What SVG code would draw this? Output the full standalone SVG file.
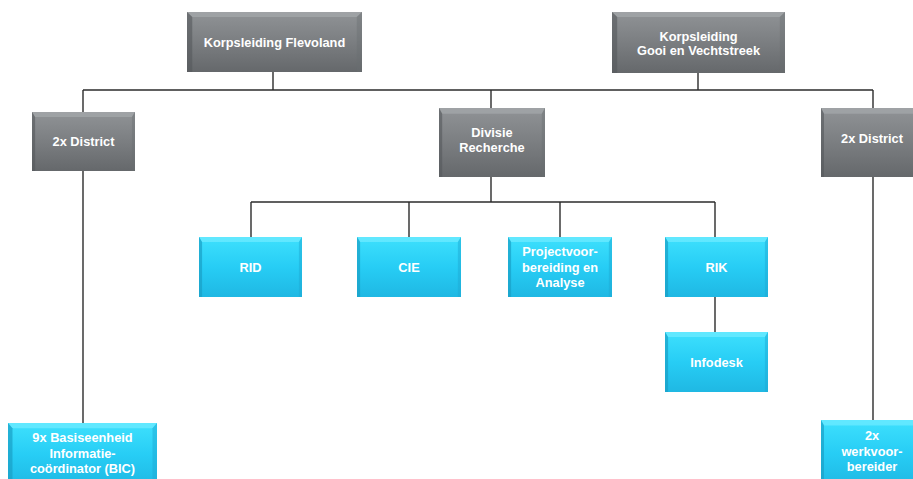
<svg xmlns="http://www.w3.org/2000/svg" width="913" height="479" viewBox="0 0 913 479">
  <style>
    .txt { font-family: "Liberation Sans", Arial, sans-serif; font-weight: bold; font-size: 12.8px; fill: #ffffff; text-anchor: middle; }
    .line { stroke: #2b2b2b; stroke-width: 1.4; fill: none; }
  </style>
  <defs>
    <linearGradient id="gray" x1="0" y1="0" x2="0" y2="1">
      <stop offset="0" stop-color="#909396"/>
      <stop offset="0.5" stop-color="#7b7e81"/>
      <stop offset="1" stop-color="#65686b"/>
    </linearGradient>
    <linearGradient id="cyan" x1="0" y1="0" x2="0" y2="1">
      <stop offset="0" stop-color="#3ee0fd"/>
      <stop offset="0.5" stop-color="#27cdf5"/>
      <stop offset="1" stop-color="#1fb8e3"/>
    </linearGradient>
    <!-- grey box with bevelled top and side edges -->
    <symbol id="grayBox" viewBox="0 0 100 60" preserveAspectRatio="none">
      <rect x="0" y="0" width="100" height="60" fill="url(#gray)"/>
      <polygon points="0,0 100,0 97,5 3,5" fill="#a3a6a9" opacity="0.8"/>
      <polygon points="0,0 3,5 3,60 0,60" fill="#55585b" opacity="0.6"/>
      <polygon points="100,0 97,5 97,60 100,60" fill="#6a6d70" opacity="0.4"/>
    </symbol>
    <!-- cyan box with bevelled top and side edges -->
    <symbol id="cyanBox" viewBox="0 0 100 60" preserveAspectRatio="none">
      <rect x="0" y="0" width="100" height="60" fill="url(#cyan)"/>
      <polygon points="0,0 100,0 97,5 3,5" fill="#6aeaff" opacity="0.8"/>
      <polygon points="0,0 3,5 3,60 0,60" fill="#1a9fc6" opacity="0.7"/>
      <polygon points="100,0 97,5 97,60 100,60" fill="#1eaad4" opacity="0.5"/>
    </symbol>
  </defs>
  <rect width="913" height="479" fill="#ffffff"/>

  <g id="connectors">
    <line class="line" x1="273" y1="72" x2="273" y2="90"/>
    <line class="line" x1="698" y1="73" x2="698" y2="90"/>
    <line class="line" x1="83" y1="90" x2="873" y2="90"/>
    <line class="line" x1="83" y1="90" x2="83" y2="112"/>
    <line class="line" x1="491" y1="90" x2="491" y2="108"/>
    <line class="line" x1="873" y1="90" x2="873" y2="108"/>
    <line class="line" x1="491" y1="177" x2="491" y2="202"/>
    <line class="line" x1="251" y1="202" x2="715" y2="202"/>
    <line class="line" x1="251" y1="202" x2="251" y2="237"/>
    <line class="line" x1="409" y1="202" x2="409" y2="237"/>
    <line class="line" x1="560" y1="202" x2="560" y2="237"/>
    <line class="line" x1="715" y1="202" x2="715" y2="237"/>
    <line class="line" x1="715" y1="297" x2="715" y2="332"/>
    <line class="line" x1="83" y1="171" x2="83" y2="423"/>
    <line class="line" x1="873" y1="177" x2="873" y2="420"/>
  </g>

  <g id="korpsleiding-flevoland">
    <use href="#grayBox" x="187" y="12" width="175" height="60"/>
    <text class="txt" x="274.5" y="47">Korpsleiding Flevoland</text>
  </g>
  <g id="korpsleiding-gooi">
    <use href="#grayBox" x="612" y="12" width="173" height="61"/>
    <text class="txt" x="698.5" y="41">Korpsleiding</text>
    <text class="txt" x="698.5" y="55">Gooi en Vechtstreek</text>
  </g>
  <g id="district-left">
    <use href="#grayBox" x="32" y="112" width="103" height="59"/>
    <text class="txt" x="83.5" y="146">2x District</text>
  </g>
  <g id="divisie-recherche">
    <use href="#grayBox" x="439" y="108" width="106" height="69"/>
    <text class="txt" x="492" y="137">Divisie</text>
    <text class="txt" x="492" y="152">Recherche</text>
  </g>
  <g id="district-right">
    <use href="#grayBox" x="821" y="108" width="100" height="69"/>
    <text class="txt" x="872" y="143">2x District</text>
  </g>

  <g id="rid">
    <use href="#cyanBox" x="199" y="237" width="103" height="60"/>
    <text class="txt" x="250.5" y="272">RID</text>
  </g>
  <g id="cie">
    <use href="#cyanBox" x="357" y="237" width="104" height="60"/>
    <text class="txt" x="409" y="272">CIE</text>
  </g>
  <g id="projectvoorbereiding">
    <use href="#cyanBox" x="508" y="237" width="104" height="60"/>
    <text class="txt" x="560" y="256">Projectvoor-</text>
    <text class="txt" x="560" y="271.5">bereiding en</text>
    <text class="txt" x="560" y="287">Analyse</text>
  </g>
  <g id="rik">
    <use href="#cyanBox" x="665" y="237" width="103" height="60"/>
    <text class="txt" x="716.5" y="272">RIK</text>
  </g>
  <g id="infodesk">
    <use href="#cyanBox" x="665" y="332" width="103" height="60"/>
    <text class="txt" x="716.5" y="367">Infodesk</text>
  </g>
  <g id="bic">
    <use href="#cyanBox" x="8" y="423" width="149" height="64"/>
    <text class="txt" x="82.5" y="442">9x Basiseenheid</text>
    <text class="txt" x="82.5" y="457.5">Informatie-</text>
    <text class="txt" x="82.5" y="473">coördinator (BIC)</text>
  </g>
  <g id="werkvoorbereider">
    <use href="#cyanBox" x="821" y="420" width="100" height="67"/>
    <text class="txt" x="872" y="440">2x</text>
    <text class="txt" x="872" y="455.5">werkvoor-</text>
    <text class="txt" x="872" y="471">bereider</text>
  </g>
</svg>
